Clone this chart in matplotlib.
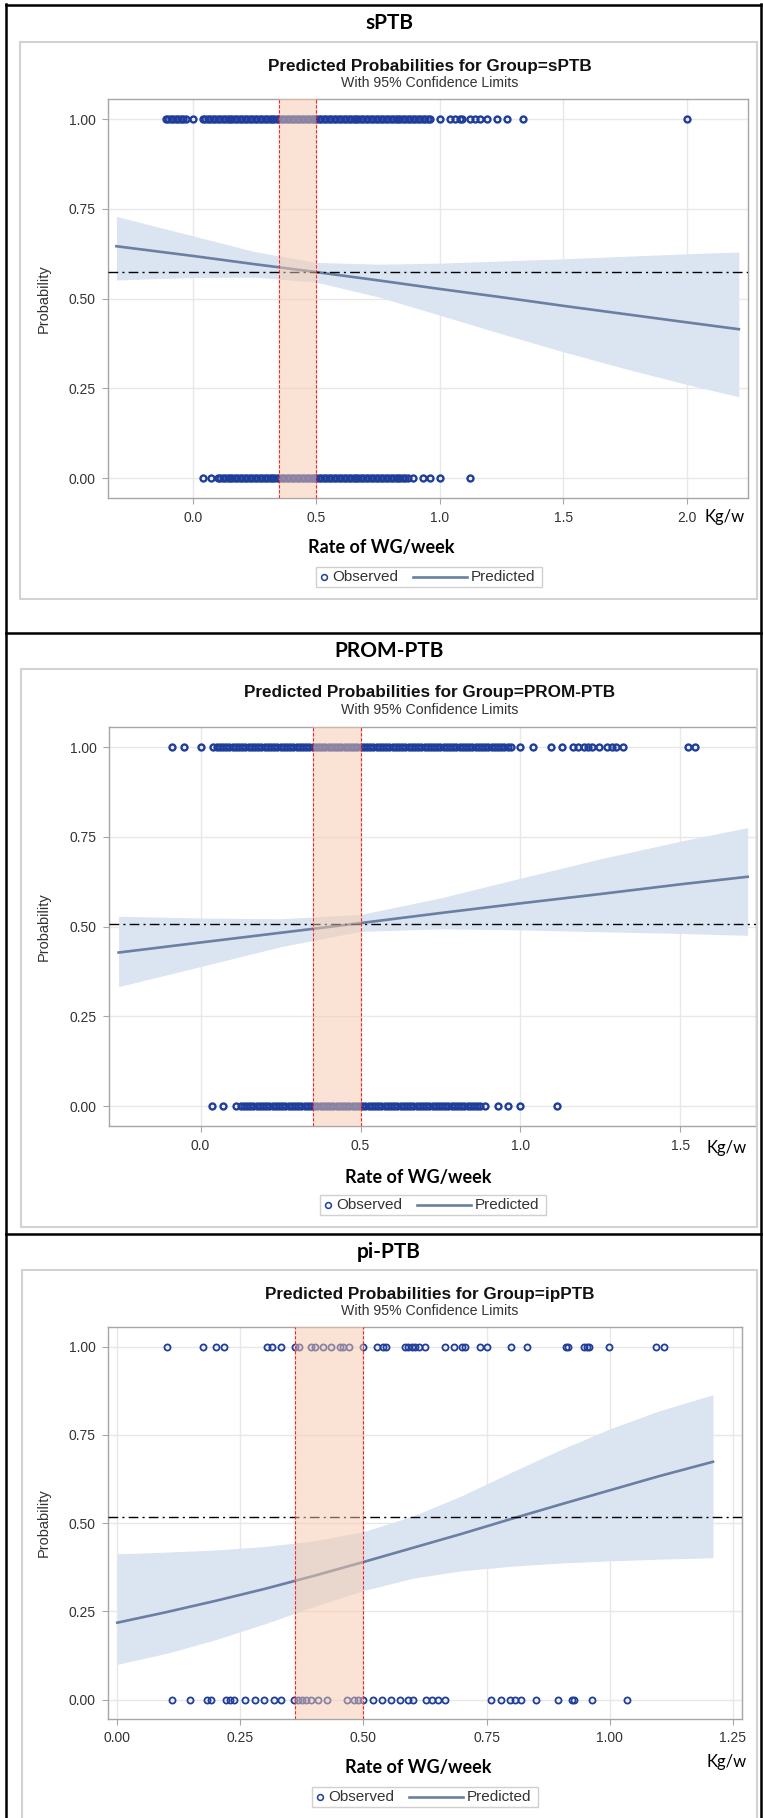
import matplotlib
matplotlib.use("Agg")
import matplotlib.pyplot as plt
from matplotlib.lines import Line2D
from matplotlib.patches import Rectangle

# ---- data ----
# sPTB
spt_obs1 = [-0.11, -0.10, -0.09, -0.08, -0.07, -0.06, -0.05, -0.04, -0.03, 0.00,
            0.04, 0.05, 0.06, 0.07, 0.08, 0.09, 0.10, 0.11, 0.12, 0.13, 0.14, 0.15,
            0.16, 0.17, 0.18, 0.19, 0.20, 0.21, 0.22, 0.23, 0.24, 0.25, 0.26, 0.27,
            0.28, 0.29, 0.30, 0.31, 0.32, 0.33, 0.34, 0.35, 0.36, 0.37, 0.38, 0.39,
            0.40, 0.41, 0.42, 0.43, 0.44, 0.45, 0.46, 0.47, 0.48, 0.49, 0.50, 0.51,
            0.52, 0.53, 0.54, 0.55, 0.56, 0.57, 0.58, 0.59, 0.60, 0.61, 0.62, 0.63,
            0.64, 0.65, 0.66, 0.67, 0.68, 0.69, 0.70, 0.71, 0.72, 0.73, 0.74, 0.75,
            0.76, 0.77, 0.78, 0.79, 0.80, 0.81, 0.82, 0.83, 0.84, 0.85, 0.86, 0.87,
            0.88, 0.89, 0.90, 0.91, 0.92, 0.93, 0.94, 0.95, 0.96,
            1.00, 1.04, 1.06, 1.08, 1.09, 1.12, 1.14, 1.16, 1.19, 1.23, 1.27, 1.335, 2.00]
spt_obs0 = [0.04, 0.075, 0.10, 0.11, 0.12, 0.13, 0.14, 0.15, 0.16, 0.17, 0.18,
            0.19, 0.20, 0.21, 0.22, 0.23, 0.24, 0.25, 0.26, 0.27, 0.28, 0.29, 0.30,
            0.31, 0.32, 0.33, 0.34, 0.35, 0.36, 0.37, 0.38, 0.39, 0.40, 0.41, 0.42,
            0.43, 0.44, 0.45, 0.46, 0.47, 0.48, 0.49, 0.50, 0.51, 0.52, 0.53, 0.54,
            0.55, 0.56, 0.57, 0.58, 0.59, 0.60, 0.61, 0.62, 0.63, 0.64, 0.65, 0.66,
            0.67, 0.68, 0.69, 0.70, 0.71, 0.72, 0.73, 0.74, 0.75, 0.76, 0.77, 0.78,
            0.79, 0.80, 0.81, 0.82, 0.83, 0.84, 0.85, 0.86, 0.87,
            0.89, 0.93, 0.96, 1.00, 1.12]
spt_curve_x = [-0.31, 0.0, 0.25, 0.5, 0.75, 1.0, 1.25, 1.5, 1.75, 2.0, 2.21]
spt_pred = [0.646, 0.619, 0.596, 0.574, 0.551, 0.527, 0.504, 0.480, 0.457, 0.434, 0.415]
spt_lower = [0.552, 0.559, 0.560, 0.546, 0.505, 0.454, 0.402, 0.352, 0.305, 0.261, 0.227]
spt_upper = [0.729, 0.675, 0.631, 0.601, 0.596, 0.599, 0.605, 0.611, 0.618, 0.625, 0.630]
spt_ref = 0.575
spt_band = (0.35, 0.50)

# PROM-PTB
prom_obs1 = [-0.09, -0.053, 0.00, 0.04, 0.05, 0.06, 0.07, 0.08, 0.09, 0.10, 0.11,
             0.12, 0.13, 0.14, 0.15, 0.16, 0.17, 0.18, 0.19, 0.20, 0.21, 0.22, 0.23,
             0.24, 0.25, 0.26, 0.27, 0.28, 0.29, 0.30, 0.31, 0.32, 0.33, 0.34, 0.35,
             0.36, 0.37, 0.38, 0.39, 0.40, 0.41, 0.42, 0.43, 0.44, 0.45, 0.46, 0.47,
             0.48, 0.49, 0.50, 0.51, 0.52, 0.53, 0.54, 0.55, 0.56, 0.57, 0.58, 0.59,
             0.60, 0.61, 0.62, 0.63, 0.64, 0.65, 0.66, 0.67, 0.68, 0.69, 0.70, 0.71,
             0.72, 0.73, 0.74, 0.75, 0.76, 0.77, 0.78, 0.79, 0.80, 0.81, 0.82, 0.83,
             0.84, 0.85, 0.86, 0.87, 0.88, 0.89, 0.90, 0.91, 0.92, 0.93, 0.94, 0.95,
             0.96, 0.97, 1.00, 1.04, 1.094, 1.13, 1.165, 1.18, 1.20, 1.21, 1.225,
             1.245, 1.27, 1.285, 1.30, 1.32, 1.525, 1.545]
prom_obs0 = [0.035, 0.07, 0.11, 0.125, 0.135, 0.145, 0.155, 0.165, 0.175, 0.185,
             0.195, 0.205, 0.215, 0.225, 0.235, 0.245, 0.255, 0.265, 0.275, 0.285,
             0.295, 0.305, 0.315, 0.325, 0.335, 0.345, 0.355, 0.365, 0.375, 0.385,
             0.395, 0.405, 0.415, 0.425, 0.435, 0.445, 0.455, 0.465, 0.475, 0.485,
             0.495, 0.505, 0.515, 0.525, 0.535, 0.545, 0.555, 0.565, 0.575, 0.585,
             0.595, 0.605, 0.615, 0.625, 0.635, 0.645, 0.655, 0.665, 0.675, 0.685,
             0.695, 0.705, 0.715, 0.725, 0.735, 0.745, 0.755, 0.765, 0.775, 0.785,
             0.795, 0.805, 0.815, 0.825, 0.835, 0.845, 0.855, 0.865,
             0.875, 0.89, 0.93, 0.96, 1.00, 1.115]
prom_curve_x = [-0.256, 0.0, 0.25, 0.5, 0.75, 1.0, 1.25, 1.5, 1.71]
prom_pred = [0.428, 0.456, 0.483, 0.510, 0.538, 0.565, 0.591, 0.618, 0.639]
prom_lower = [0.333, 0.389, 0.444, 0.487, 0.494, 0.491, 0.486, 0.481, 0.476]
prom_upper = [0.529, 0.524, 0.522, 0.534, 0.580, 0.635, 0.689, 0.738, 0.776]
prom_ref = 0.508
prom_band = (0.35, 0.50)

# pi-PTB
pi_obs1 = [0.10, 0.173, 0.20, 0.217, 0.303, 0.314, 0.332, 0.36, 0.369, 0.393, 0.401,
           0.417, 0.435, 0.452, 0.459, 0.471, 0.50, 0.527, 0.54, 0.546, 0.584, 0.591,
           0.598, 0.605, 0.613, 0.625, 0.666, 0.683, 0.70, 0.706, 0.737, 0.75, 0.799,
           0.832, 0.911, 0.916, 0.949, 0.954, 0.958, 0.999, 1.095, 1.111]
pi_obs0 = [0.112, 0.147, 0.183, 0.19, 0.22, 0.229, 0.237, 0.259, 0.279, 0.298, 0.318,
           0.332, 0.359, 0.367, 0.376, 0.384, 0.393, 0.408, 0.425, 0.466, 0.481, 0.489,
           0.50, 0.519, 0.537, 0.556, 0.574, 0.591, 0.601, 0.628, 0.639, 0.652, 0.666,
           0.759, 0.779, 0.798, 0.808, 0.82, 0.851, 0.895, 0.923, 0.928, 0.964, 1.036]
pi_curve_x = [0.0, 0.1, 0.2, 0.3, 0.4, 0.5, 0.6, 0.7, 0.8, 0.9, 1.0, 1.1, 1.21]
pi_pred = [0.218, 0.248, 0.280, 0.314, 0.351, 0.390, 0.430, 0.470, 0.512, 0.553, 0.593, 0.633, 0.674]
pi_lower = [0.100, 0.131, 0.170, 0.215, 0.264, 0.309, 0.344, 0.365, 0.378, 0.387, 0.393, 0.398, 0.402]
pi_upper = [0.413, 0.418, 0.424, 0.434, 0.450, 0.476, 0.520, 0.578, 0.644, 0.708, 0.767, 0.818, 0.864]
pi_ref = 0.518
pi_band = (0.36, 0.50)

y_ticks = [0.0, 0.25, 0.5, 0.75, 1.0]
y_tick_labels = ["0.00", "0.25", "0.50", "0.75", "1.00"]

# ---- style ----
W, H = 763, 1818
SAS_FONT = ["Liberation Sans", "DejaVu Sans"]
DOC_FONT = ["Lato", "DejaVu Sans"]
OBS_COL = "#1f3e9b"
FIT_COL = "#6a7fa2"
CI_COL = "#dbe4f1"
BAND_COL = "#f7c9ab"
TXT_COL = "#333333"

fig = plt.figure(figsize=(W / 100, H / 100), dpi=100)


def fx(x):
    return x / W


def fy(y):
    return 1 - y / H


def box(l, t, r, b):
    return [l / W, 1 - b / H, (r - l) / W, (b - t) / H]


# table borders (black) around the three cells
for x in (6, 761):
    fig.add_artist(Line2D([fx(x), fx(x)], [fy(4), fy(H)], color="black", lw=1.8))
for y in (5, 633, 1234):
    fig.add_artist(Line2D([fx(6), fx(761)], [fy(y), fy(y)], color="black", lw=1.8))


def draw_legend(left, cy):
    # hand-built SAS style legend box, 226 px wide
    fig.add_artist(Rectangle((fx(left), fy(cy + 10)), 226 / W, 20 / H,
                             transform=fig.transFigure, fc="white",
                             ec="#d0d0d0", lw=1.0))
    fig.add_artist(Line2D([fx(left + 8)], [fy(cy)], marker="o", ls="none",
                          mfc="none", mec=OBS_COL, ms=4.2, mew=1.1))
    fig.text(fx(left + 16), fy(cy), "Observed", ha="left", va="center",
             fontsize=11, family=SAS_FONT, color=TXT_COL)
    fig.add_artist(Line2D([fx(left + 97), fx(left + 151)], [fy(cy), fy(cy)],
                          color=FIT_COL, lw=1.9))
    fig.text(fx(left + 155), fy(cy), "Predicted", ha="left", va="center",
             fontsize=11, family=SAS_FONT, color=TXT_COL)


def draw_panel(name, group, obs1, obs0, cx, pred, lo, up, ref, band,
               xticks, xlabels, xlim, top, axes_px, gray_px,
               xlabel_pos, kg_pos, legend_pos, mk):
    # gray frame of the pasted SAS picture
    gl, gt, gr, gb = gray_px
    fig.add_artist(Rectangle((fx(gl), fy(gb)), (gr - gl) / W, (gb - gt) / H,
                             transform=fig.transFigure, fill=False,
                             ec="#d2d2d2", lw=1.5))
    fig.text(fx(389), fy(top + 18), name, ha="center", va="center",
             fontsize=15, fontweight="bold", family=DOC_FONT)
    fig.text(fx(430), fy(gt + 24), "Predicted Probabilities for Group=" + group,
             ha="center", va="center", fontsize=12.3, fontweight="bold",
             family=SAS_FONT, color="#111111")
    fig.text(fx(430), fy(gt + 41), "With 95% Confidence Limits",
             ha="center", va="center", fontsize=10.2, family=SAS_FONT,
             color=TXT_COL)

    al, at, ar, ab = axes_px
    ax = fig.add_axes(box(al, at, ar, ab))
    ax.fill_between(cx, lo, up, color=CI_COL, lw=0, zorder=1)
    ax.plot(cx, pred, color=FIT_COL, lw=1.9, zorder=2)
    ms, mew = mk
    ax.plot(obs1, [1.0] * len(obs1), "o", mfc="none", mec=OBS_COL,
            ms=ms, mew=mew, zorder=3)
    ax.plot(obs0, [0.0] * len(obs0), "o", mfc="none", mec=OBS_COL,
            ms=ms, mew=mew, zorder=3)
    ax.axhline(ref, color="black", lw=1.0, ls=(0, (7, 3, 1.5, 3)), zorder=4)
    ax.axvspan(band[0], band[1], color=BAND_COL, alpha=0.5, lw=0, zorder=5)
    for b in band:
        ax.axvline(b, color="#ff2020", lw=0.8, ls=(0, (3, 1.5)), zorder=6)

    ax.set_xlim(*xlim)
    ax.set_ylim(-0.055, 1.056)
    ax.set_xticks(xticks)
    ax.set_xticklabels(xlabels)
    ax.set_yticks(y_ticks)
    ax.set_yticklabels(y_tick_labels)
    ax.grid(color="#e8e8e8", lw=1.0)
    ax.set_axisbelow(True)
    for s in ax.spines.values():
        s.set_color("#a6a6a6")
        s.set_linewidth(1.0)
    ax.tick_params(direction="out", length=4.5, width=0.8, color="#a6a6a6",
                   labelsize=10, labelcolor=TXT_COL, pad=4.5)
    for lab in ax.get_xticklabels() + ax.get_yticklabels():
        lab.set_family(SAS_FONT)

    fig.text(fx(44), fy((at + ab) / 2), "Probability", rotation=90,
             ha="center", va="center", fontsize=10.5, family=SAS_FONT,
             color=TXT_COL)
    fig.text(fx(xlabel_pos[0]), fy(xlabel_pos[1]), "Rate of WG/week",
             ha="center", va="center", fontsize=13, fontweight="bold",
             family=DOC_FONT)
    fig.text(fx(kg_pos[0]), fy(kg_pos[1]), "Kg/w", ha="center", va="center",
             fontsize=12, family=DOC_FONT)
    draw_legend(*legend_pos)
    return ax


draw_panel("sPTB", "sPTB", spt_obs1, spt_obs0, spt_curve_x, spt_pred,
           spt_lower, spt_upper, spt_ref, spt_band,
           [0.0, 0.5, 1.0, 1.5, 2.0], ["0.0", "0.5", "1.0", "1.5", "2.0"],
           (-0.344, 2.247), 5, (108, 99, 748, 498), (20, 42, 757, 599),
           (381, 548), (725, 517), (316, 577), (4.3, 1.7))

draw_panel("PROM-PTB", "PROM-PTB", prom_obs1, prom_obs0, prom_curve_x,
           prom_pred, prom_lower, prom_upper, prom_ref, prom_band,
           [0.0, 0.5, 1.0, 1.5], ["0.0", "0.5", "1.0", "1.5"],
           (-0.286, 1.736), 633, (109, 727, 756, 1126), (21, 669, 757, 1227),
           (418, 1177), (727, 1148), (320, 1205), (4.3, 1.7))

draw_panel("pi-PTB", "ipPTB", pi_obs1, pi_obs0, pi_curve_x, pi_pred,
           pi_lower, pi_upper, pi_ref, pi_band,
           [0.0, 0.25, 0.5, 0.75, 1.0, 1.25],
           ["0.00", "0.25", "0.50", "0.75", "1.00", "1.25"],
           (-0.019, 1.269), 1234, (108, 1327, 742, 1719), (22, 1270, 757, 1830),
           (418, 1767), (727, 1762), (312, 1797), (4.4, 1.3))

fig.savefig("out.png", dpi=100)
